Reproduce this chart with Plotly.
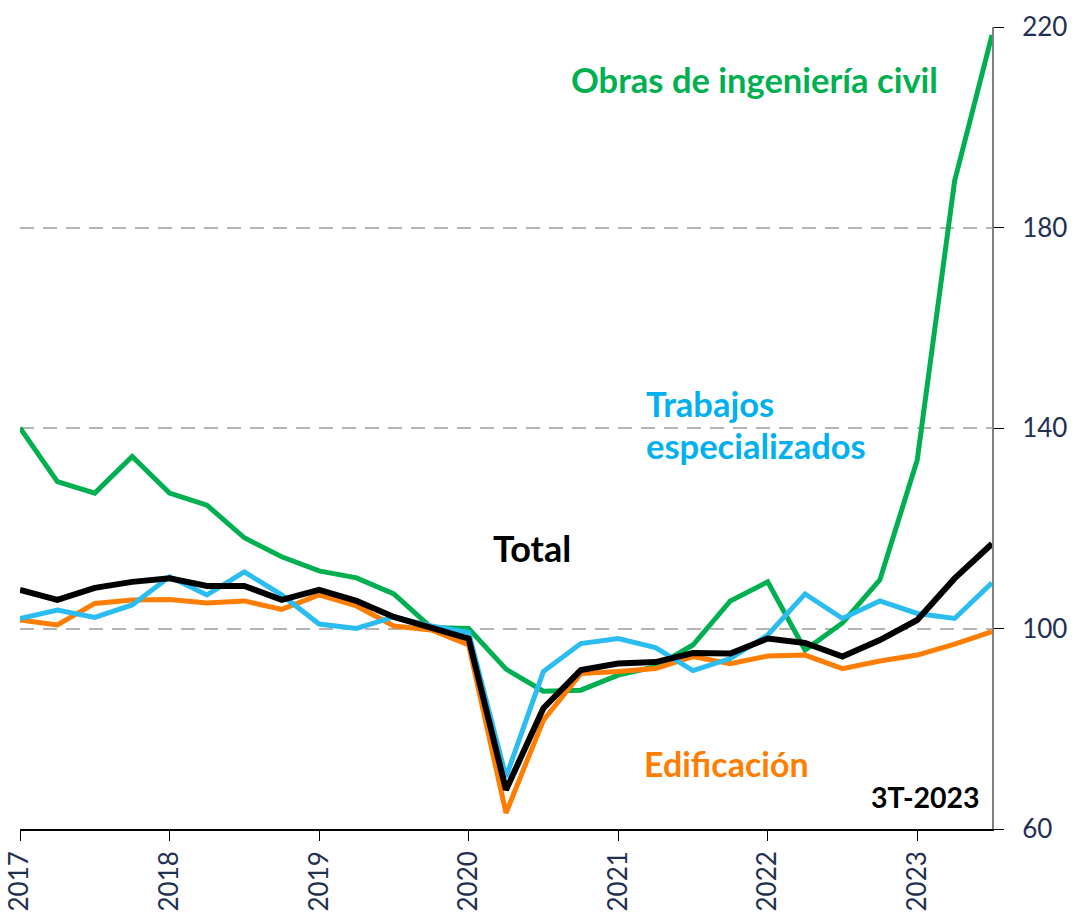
import plotly.graph_objects as go

# Quarterly index, 2017 Q1 .. 2023 Q3
quarters = [f"{y}-T{q}" for y in range(2017, 2024) for q in range(1, 5)][:27]
year_ticks = ["2017", "2018", "2019", "2020", "2021", "2022", "2023"]

obras_civil = [140.0, 129.3, 127.0, 134.3, 127.0, 124.6, 118.1, 114.3, 111.5, 110.1,
               106.9, 100.2, 100.0, 91.9, 87.5, 87.7, 90.7, 92.4, 96.7, 105.5,
               109.3, 95.7, 101.1, 109.7, 133.6, 189.3, 218.4]
edificacion = [101.7, 100.7, 105.0, 105.7, 105.8, 105.1, 105.5, 103.8, 106.7, 104.5,
               100.5, 99.7, 96.7, 63.2, 81.7, 91.0, 91.4, 92.0, 94.4, 93.0,
               94.5, 94.7, 92.0, 93.5, 94.7, 96.9, 99.4]
trabajos_esp = [102.0, 103.7, 102.2, 104.7, 110.3, 106.7, 111.3, 106.7, 100.9, 100.0,
                102.3, 100.5, 99.2, 70.4, 91.4, 97.0, 98.0, 96.2, 91.6, 94.0,
                98.7, 106.9, 102.0, 105.5, 103.0, 102.0, 109.1]
total = [107.7, 105.7, 108.1, 109.3, 110.0, 108.5, 108.5, 105.7, 107.7, 105.5,
         102.3, 100.0, 98.0, 67.8, 84.1, 91.7, 93.0, 93.3, 95.1, 95.0,
         98.0, 97.1, 94.4, 97.7, 101.7, 110.0, 116.9]

GREEN = "#00B050"
ORANGE = "#FF7D00"
BLUE = "#2BBCF0"
BLACK = "#000000"
NAVY = "#1F3050"

x = list(range(len(quarters)))

fig = go.Figure()
fig.add_trace(go.Scatter(x=x, y=obras_civil, mode="lines", name="Obras de ingeniería civil",
                         line=dict(color=GREEN, width=5)))
fig.add_trace(go.Scatter(x=x, y=edificacion, mode="lines", name="Edificación",
                         line=dict(color=ORANGE, width=5)))
fig.add_trace(go.Scatter(x=x, y=trabajos_esp, mode="lines", name="Trabajos especializados",
                         line=dict(color=BLUE, width=5)))
fig.add_trace(go.Scatter(x=x, y=total, mode="lines", name="Total",
                         line=dict(color=BLACK, width=6)))

FONT = "Lato"

def ann(text, xv, yv, color, size, xanchor="left"):
    fig.add_annotation(text=f"<b>{text}</b>", x=xv, y=yv, xref="x", yref="y",
                       xanchor=xanchor, yanchor="middle", showarrow=False,
                       font=dict(family=FONT, size=size, color=color))

ann("Obras de ingeniería civil", 19.64, 209.6, GREEN, 34.5, xanchor="center")
ann("Trabajos", 16.68, 144.8, "#00B0F0", 34.5)
ann("especializados", 16.68, 136.6, "#00B0F0", 34.5)
ann("Total", 12.6, 116.1, BLACK, 36)
ann("Edificación", 16.65, 73.0, ORANGE, 34)
ann("3T-2023", 25.74, 66.3, BLACK, 28.5, xanchor="right")

fig.update_layout(
    width=1076, height=916,
    margin=dict(l=20, r=84, t=27, b=87, autoexpand=False),
    plot_bgcolor="white", paper_bgcolor="white",
    showlegend=False,
    font=dict(family=FONT, color=NAVY),
)
fig.update_xaxes(
    range=[0, 26], tickmode="array", tickvals=[0, 4, 8, 12, 16, 20, 24], ticktext=year_ticks,
    tickangle=-90, ticks="outside", ticklen=10, tickcolor="black", tickwidth=1,
    showline=True, linecolor="black", linewidth=1.5, showgrid=False, zeroline=False,
    tickfont=dict(family=FONT, size=26, color=NAVY), automargin=False,
)
fig.update_yaxes(
    range=[60, 220], tickmode="array", tickvals=[60, 100, 140, 180, 220], side="right",
    ticks="outside", ticklen=10, tickcolor="black", tickwidth=1,
    showline=True, linecolor="#808080", linewidth=2,
    showgrid=True, gridcolor="#B4B4B4", gridwidth=2, griddash="14px,9px", zeroline=False,
    tickfont=dict(family=FONT, size=26, color=NAVY), ticklabelstandoff=13, automargin=False,
)

fig.write_html(
    "out.html",
    config={"displayModeBar": False},
    post_script="document.body.style.margin='0';document.body.style.overflow='hidden';",
)
